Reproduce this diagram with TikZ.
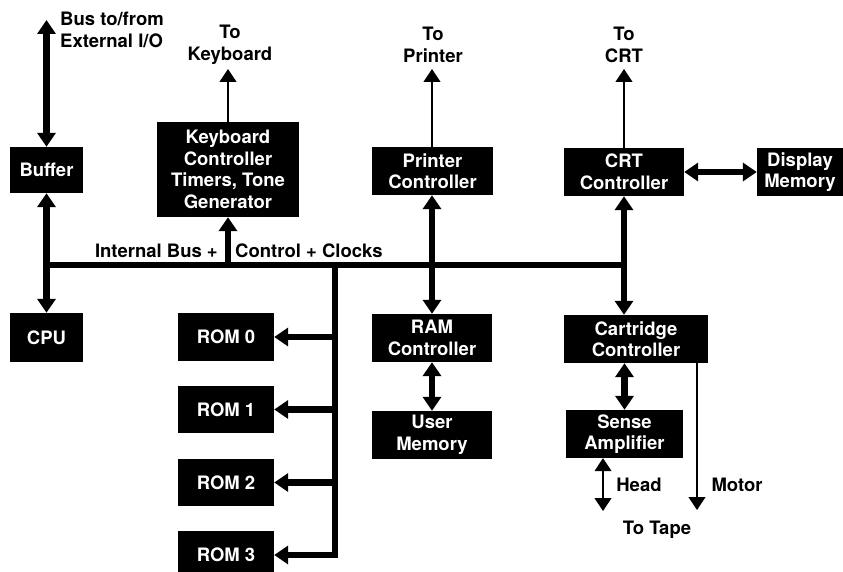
\documentclass[tikz,border=0pt]{standalone}
\usepackage{fontspec}
\setmainfont{TeX Gyre Heros}
\usetikzlibrary{arrows.meta}
\begin{document}
\begin{tikzpicture}[x=1pt,y=-1pt,
  txt/.style={font=\bfseries\fontsize{18.5}{21.5}\selectfont,align=center,inner sep=0pt},
  blk/.style={txt,fill=black,text=white},
  busline/.style={line width=6.5pt},
  tip/.tip={Triangle[width=18pt,length=14pt]},
  thk/.style={line width=6.5pt,-tip},
  thkd/.style={line width=6.5pt,tip-tip},
  thn/.style={line width=1.1pt,-{Triangle[width=17pt,length=13pt]}},
  thnd/.style={line width=1.1pt,{Triangle[width=17pt,length=13pt]}-{Triangle[width=17pt,length=13pt]}}
]
\useasboundingbox (0,0) rectangle (843,572);
% boxes
\node[blk,minimum width=73pt,minimum height=46pt] (buffer) at (46.5,170) {Buffer};
\node[blk,minimum width=142pt,minimum height=95pt] (kbd) at (228,169.5) {Keyboard\\Controller\\Timers, Tone\\Generator};
\node[blk,minimum width=121pt,minimum height=48pt] (prn) at (432.5,171) {Printer\\Controller};
\node[blk,minimum width=120pt,minimum height=48pt] (crt) at (624,172) {CRT\\Controller};
\node[blk,minimum width=86pt,minimum height=48pt] (disp) at (800,172) {Display\\Memory};
\node[blk,minimum width=73pt,minimum height=49pt] (cpu) at (46.5,337.5) {CPU};
\node[blk,minimum width=96pt,minimum height=48pt] (rom0) at (226,337) {ROM 0};
\node[blk,minimum width=96pt,minimum height=47pt] (rom1) at (226,409.5) {ROM 1};
\node[blk,minimum width=96pt,minimum height=47pt] (rom2) at (226,482.5) {ROM 2};
\node[blk,minimum width=96pt,minimum height=48pt] (rom3) at (226,555) {ROM 3};
\node[blk,minimum width=120pt,minimum height=48pt] (ram) at (432,338) {RAM\\Controller};
\node[blk,minimum width=120pt,minimum height=48pt] (user) at (432,435) {User\\Memory};
\node[blk,minimum width=144pt,minimum height=48pt] (cart) at (636,339) {Cartridge\\Controller};
\node[blk,minimum width=117pt,minimum height=48pt] (sense) at (624.5,434) {Sense\\Amplifier};
% labels
\node[txt,align=left,anchor=north west] (ext) at (60,12) {Bus to/from\\External I/O};
\node[txt] (tokbd) at (230,45) {To\\Keyboard};
\node[txt] (toprn) at (433,45) {To\\Printer};
\node[txt] (tocrt) at (624,45) {To\\CRT};
\node[txt,anchor=base east] (ib) at (218,257) {Internal Bus +};
\node[txt,anchor=base west] (cc) at (235,257) {Control + Clocks};
\node[txt] (head) at (639,485) {Head};
\node[txt] (motor) at (737,485) {Motor};
\node[txt] (tape) at (657,530) {To Tape};
% coordinates
\coordinate (busL) at (46.5,265);
\coordinate (busR) at (624,265);
\coordinate (extend) at (46.5,20);
\coordinate (kbdout) at (228,69);
\coordinate (prnout) at (432,69);
\coordinate (crtout) at (624,69);
\coordinate (spineT) at (335,262);
\coordinate (spineB) at (335,558);
\coordinate (headend) at (603,511);
\coordinate (motorend) at (697,510);
% bus
\draw[busline] (busL) -- (busR);
\draw[busline] (spineT) -- (spineB);
% connectors
\draw[thkd] (buffer.north) -- (extend);
\draw[thkd] (buffer.south) -- (cpu.north);
\draw[thk] (busL -| kbd.south) -- (kbd.south);
\draw[thn] (kbd.north) -- (kbdout);
\draw[thn] (prn.north -| prnout) -- (prnout);
\draw[thn] (crt.north) -- (crtout);
\draw[thkd] (prn.south -| ram.north) -- (ram.north);
\draw[thkd] (ram.south) -- (user.north);
\draw[thkd] (crt.south) -- (cart.north -| crt.south);
\draw[thkd] (crt.east) -- (disp.west);
\draw[thkd] (cart.south -| sense.north) -- (sense.north);
\draw[thnd] (sense.south -| headend) -- (headend);
\draw[thn] (cart.south -| motorend) -- (motorend);
\foreach \r in {rom0,rom1,rom2,rom3}
  \draw[thk] (spineT |- \r.east) -- (\r.east);
\end{tikzpicture}
\end{document}
